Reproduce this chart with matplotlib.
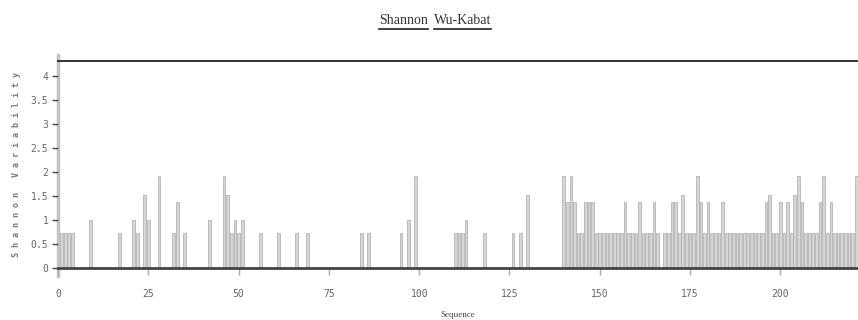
import numpy as np
import matplotlib
matplotlib.use("Agg")
import matplotlib.pyplot as plt
from matplotlib.lines import Line2D

# positions de la séquence avec une variabilité non nulle
sequence_pos = [1, 2, 3, 4, 9, 17, 21, 22, 24, 25, 28, 32, 33, 35, 42,
                46, 47, 48, 49, 50, 51, 56, 61, 66, 69, 84, 86, 95, 97, 99,
                110, 111, 112, 113, 118, 126, 128, 130,
                140, 141, 142, 143, 144, 145, 146, 147, 148,
                149, 150, 151, 152, 153, 154, 155, 156,
                157, 158, 159, 160, 161, 162, 163, 164, 165, 166,
                168, 169, 170, 171, 172, 173, 174, 175, 176,
                177, 178, 179, 180, 181, 182, 183, 184,
                185, 186, 187, 188, 189, 190, 191, 192, 193, 194, 195,
                196, 197, 198, 199, 200, 201, 202, 203, 204, 205, 206,
                207, 208, 209, 210, 211, 212, 213, 214,
                215, 216, 217, 218, 219, 220, 221]

shannon = [0.722, 0.722, 0.722, 0.722, 1.0, 0.722, 1.0, 0.722, 1.522, 1.0, 1.922, 0.722, 1.371, 0.722, 1.0,
           1.922, 1.522, 0.722, 1.0, 0.722, 1.0, 0.722, 0.722, 0.722, 0.722, 0.722, 0.722, 0.722, 1.0, 1.922,
           0.722, 0.722, 0.722, 1.0, 0.722, 0.722, 0.722, 1.522,
           1.922, 1.371, 1.922, 1.371, 0.722, 0.722, 1.371, 1.371, 1.371,
           0.722, 0.722, 0.722, 0.722, 0.722, 0.722, 0.722, 0.722,
           1.371, 0.722, 0.722, 0.722, 1.371, 0.722, 0.722, 0.722, 1.371, 0.722,
           0.722, 0.722, 1.371, 1.371, 0.722, 1.522, 0.722, 0.722, 0.722,
           1.922, 1.371, 0.722, 1.371, 0.722, 0.722, 0.722, 1.371,
           0.722, 0.722, 0.722, 0.722, 0.722, 0.722, 0.722, 0.722, 0.722, 0.722, 0.722,
           1.371, 1.522, 0.722, 0.722, 1.371, 0.722, 1.371, 0.722, 1.522, 1.922, 1.371,
           0.722, 0.722, 0.722, 0.722, 1.371, 1.922, 0.722, 1.371,
           0.722, 0.722, 0.722, 0.722, 0.722, 0.722, 1.922]

assert len(sequence_pos) == len(shannon)

y_ticks = [0, 0.5, 1, 1.5, 2, 2.5, 3, 3.5, 4]
y_labels = ["0", "0.5", "1", "1.5", "2", "2.5", "3", "3.5", "4"]
x_ticks = [0, 25, 50, 75, 100, 125, 150, 175, 200]

fig = plt.figure(figsize=(8.58, 3.2), dpi=100)
ax = fig.add_axes([58 / 858, 52 / 320, 800 / 858, 207 / 320])

ax.bar(sequence_pos, shannon, width=0.75, color="#d6d6d6",
       edgecolor="#aaaaaa", linewidth=0.5)

ax.set_xlim(0, 221.5)
ax.set_ylim(0, np.log2(20))  # entropie max pour 20 acides aminés

ax.set_yticks(y_ticks)
ax.set_yticklabels(y_labels, family="DejaVu Sans Mono", fontsize=7, color="#666666")
ax.set_xticks(x_ticks)
ax.set_xticklabels([str(t) for t in x_ticks], family="DejaVu Sans Mono",
                   fontsize=7, color="#666666")
ax.tick_params(axis="y", length=4, width=1, color="#444444", pad=3)
ax.tick_params(axis="x", length=5, width=1, color="#aaaaaa", pad=10)

ax.spines["right"].set_visible(False)
ax.spines["left"].set_visible(False)
ax.spines["top"].set_color("#222222")
ax.spines["top"].set_linewidth(1.3)
ax.spines["bottom"].set_color("#444444")
ax.spines["bottom"].set_linewidth(2)

# axe gauche gris qui dépasse un peu
ax.add_line(Line2D([0, 0], [-0.04, 1.03], transform=ax.transAxes,
                   color="#c4c4c4", lw=2.5, clip_on=False, zorder=0))

ax.set_ylabel(" ".join("Shannon Variability"),
              family="DejaVu Sans Mono", fontsize=6, color="#777777",
              fontweight="bold", labelpad=7)
ax.set_xlabel("Sequence", family="Liberation Serif", fontsize=6.5,
              color="#444444", labelpad=9)

# titre : deux liens soulignés
t1 = fig.text(428 / 858, 1 - 20 / 320, "Shannon", ha="right", va="center",
              family="Liberation Serif", fontsize=10, color="#333333")
t2 = fig.text(434 / 858, 1 - 20 / 320, "Wu-Kabat", ha="left", va="center",
              family="Liberation Serif", fontsize=10, color="#333333")
fig.canvas.draw()
r = fig.canvas.get_renderer()
for t in (t1, t2):
    bb = t.get_window_extent(r)
    yl = bb.y0 - 2
    fig.add_artist(Line2D([bb.x0 / 858, bb.x1 / 858], [yl / 320, yl / 320],
                          transform=fig.transFigure, color="#222222", lw=1.2))

fig.savefig("out.png", dpi=100)
